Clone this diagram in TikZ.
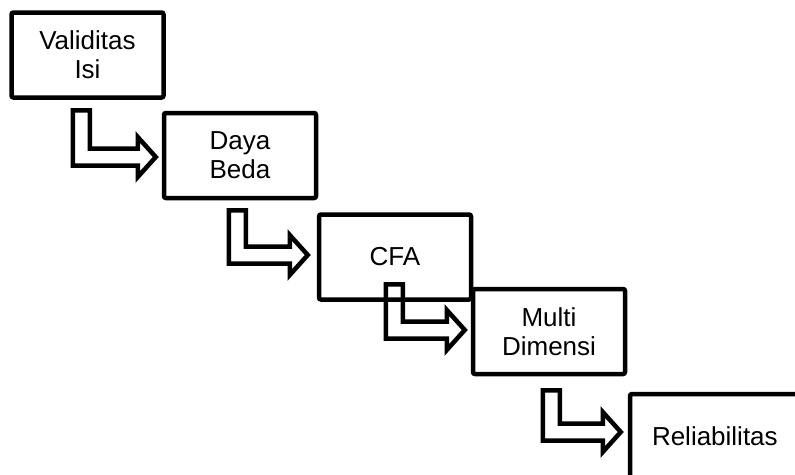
\documentclass[tikz,border=0pt]{standalone}
\usepackage{fontspec}
\setmainfont{Liberation Sans}
\usetikzlibrary{calc}

\tikzset{
  stage/.style={draw,line width=4.5pt,rounded corners=2pt,minimum width=152pt,minimum height=85pt,
    inner sep=0pt,align=center,font=\fontsize{26}{29}\selectfont},
  bent/.style={draw,line width=4.5pt,line join=miter},
}
% L-shaped block arrow: #1 = top left of the stem, #2 = tip
\newcommand{\stepArrow}[2]{%
  \draw[bent] (#1) -- ++(17,0) |- ($(#2)+(-18,-8.5)$) -- ++(0,-11.5) -- (#2)
    -- ($(#2)+(-18,20)$) -- ++(0,-11.5) -| (#1) -- cycle;
}

\begin{document}
\begin{tikzpicture}[x=1pt,y=-1pt]
 \useasboundingbox (0,0) rectangle (795,474);
 \clip (0,0) rectangle (795,474);
 % stages
 \node[stage] (validitas) at (87.5,55) {Validitas\\Isi};
 \node[stage] (daya) at (240,155.5) {Daya\\Beda};
 \node[stage] (cfa) at (395,257) {CFA};
 \node[stage] (multi) at (549,331.5) {Multi\\Dimensi};
 \node[stage,text width=136pt,inner xsep=22pt,align=left] (reliabilitas) at (720,436.5) {Reliabilitas};
 % arrows
 \stepArrow{$(validitas.south west)+(63.5,10.5)$}{$(daya.west)+(-6,1.5)$}
 \stepArrow{$(daya.south west)+(67,10)$}{$(cfa.west)+(-9,-2)$}
 \stepArrow{$(cfa.south west)+(69,-17.5)$}{$(multi.west)+(-6,-1.5)$}
 \stepArrow{$(multi.south west)+(72,14)$}{$(reliabilitas.west)+(-7,-4.5)$}
\end{tikzpicture}
\end{document}
